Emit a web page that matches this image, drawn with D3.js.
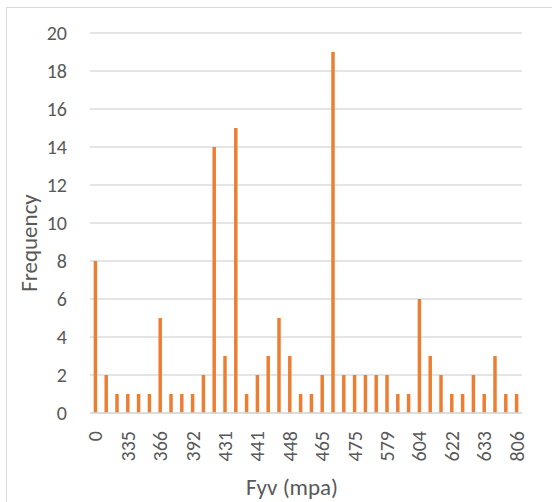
<!DOCTYPE html>
<html>
<head>
<meta charset="utf-8">
<script src="https://cdn.jsdelivr.net/npm/d3@7"></script>
<style>
  body { margin: 0; background: #fff; }
  svg text { font-family: Calibri, Carlito, Lato, sans-serif; fill: #595959; }
</style>
</head>
<body>
<svg id="chart"></svg>
<script>
// Fyv categories (only every 3rd one is labelled in the picture, the rest are guesses)
const fyvValues = ['0', '300', '320', '335', '345', '355', '366', '375', '383', '392',
    '410', '420', '431', '435', '438', '441', '443', '445', '448', '452',
    '460', '465', '468', '470', '475', '500', '550', '579', '590', '600',
    '604', '610', '618', '622', '625', '630', '633', '650', '700', '806']
const frequencies = [8, 2, 1, 1, 1, 1, 5, 1, 1, 1,
    2, 14, 3, 15, 1, 2, 3, 5, 3, 1,
    1, 2, 19, 2, 2, 2, 2, 2, 1, 1,
    6, 3, 2, 1, 1, 2, 1, 3, 1, 1]
const yTicks = [0, 2, 4, 6, 8, 10, 12, 14, 16, 18, 20]

const width = 552, height = 502
const margin = {top: 33, right: 30, bottom: 89, left: 90}

const svg = d3.select('#chart')
    .attr('width', width)
    .attr('height', height)

// chart frame
svg.append('rect')
    .attr('x', 6.5).attr('y', 7.5)
    .attr('width', width).attr('height', height)
    .attr('fill', 'none')
    .attr('stroke', '#d9d9d9')

const xScale = d3.scaleBand()
    .domain(fyvValues)
    .range([margin.left, width - margin.right])
    .paddingInner(0.68)
    .paddingOuter(0.34)

const yScale = d3.scaleLinear()
    .domain([0, 20])
    .range([height - margin.bottom, margin.top])

// gridlines
svg.append('g')
    .selectAll('line')
    .data(yTicks)
    .join('line')
        .attr('x1', margin.left)
        .attr('x2', width - margin.right)
        .attr('y1', d => yScale(d))
        .attr('y2', d => yScale(d))
        .attr('stroke', '#dcdcdc')
        .attr('stroke-width', 1.6)

// y axis labels (no line)
const yAxis = d3.axisLeft(yScale).tickValues(yTicks).tickSize(0).tickPadding(23)
svg.append('g')
    .attr('transform', `translate(${margin.left}, 0)`)
    .call(yAxis)
    .call(g => g.select('.domain').remove())
    .selectAll('text')
        .attr('font-size', 20)
        .attr('fill', '#595959')

// bars
svg.append('g')
    .selectAll('rect')
    .data(frequencies)
    .join('rect')
        .attr('x', (d, i) => xScale(fyvValues[i]))
        .attr('y', d => yScale(d))
        .attr('width', xScale.bandwidth())
        .attr('height', d => yScale(0) - yScale(d))
        .attr('fill', '#ed7d31')

// x axis
const xAxis = d3.axisBottom(xScale)
    .tickValues(fyvValues.filter((d, i) => i % 3 === 0))
    .tickSize(0)
svg.append('g')
    .attr('transform', `translate(0, ${yScale(0)})`)
    .call(xAxis)
    .call(g => g.select('.domain').remove())
    .selectAll('text')
        .attr('font-size', 20)
        .attr('fill', '#595959')
        .attr('text-anchor', 'end')
        .attr('dy', '0.35em')
        .attr('transform', 'translate(0, 18) rotate(-90)')
        .attr('x', 0).attr('y', 0)

// base line
svg.append('line')
    .attr('x1', margin.left).attr('x2', width - margin.right)
    .attr('y1', yScale(0)).attr('y2', yScale(0))
    .attr('stroke', '#d9d9d9')
    .attr('stroke-width', 1.6)

// axis titles
svg.append('text')
    .attr('x', 292).attr('y', 495)
    .attr('text-anchor', 'middle')
    .attr('font-size', 23)
    .text('Fyv (mpa)')

svg.append('text')
    .attr('transform', 'translate(37, 243) rotate(-90)')
    .attr('text-anchor', 'middle')
    .attr('font-size', 23)
    .text('Frequency')
</script>
</body>
</html>
